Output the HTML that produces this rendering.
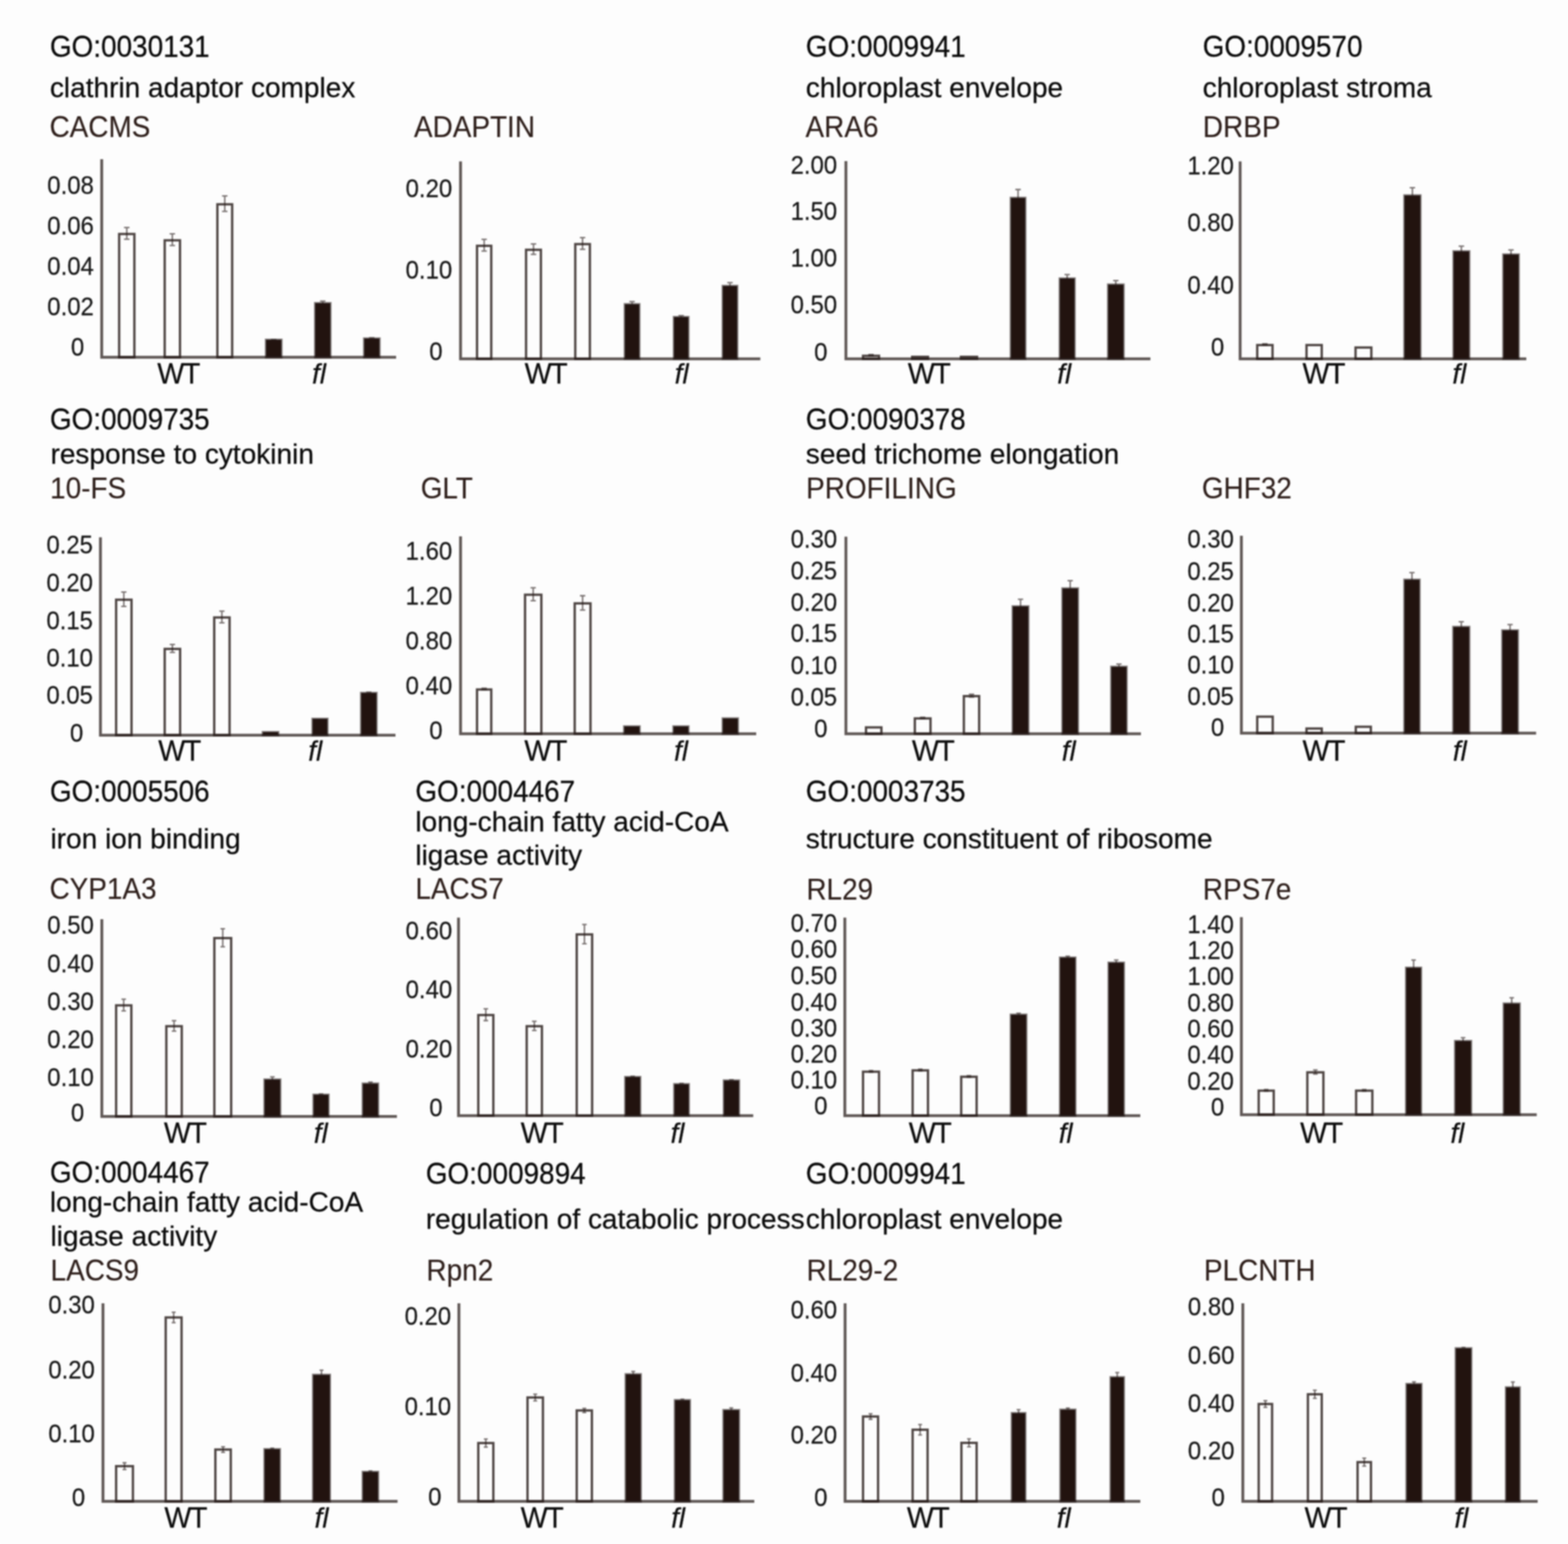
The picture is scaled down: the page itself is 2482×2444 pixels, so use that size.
<!DOCTYPE html>
<html lang="en">
<head>
<meta charset="utf-8">
<title>Figure</title>
<style>
html,body{margin:0;padding:0;background:#fdfdfd;}
body{width:2482px;height:2444px;overflow:hidden;}
svg{display:block;font-family:"Liberation Sans",Arial,Helvetica,sans-serif;}
.fig{filter:blur(1.2px);}
text{paint-order:stroke fill;stroke-linejoin:round;}
.g{font-size:44.2px;fill:#0a0a0a;stroke:#0a0a0a;stroke-width:.35;}
.d{font-size:44.4px;}
.n{font-size:44.2px;fill:#2e1f1b;stroke:#2e1f1b;stroke-width:.2;}
.t{font-size:37.9px;fill:#181818;stroke:#181818;stroke-width:.3;text-anchor:end;}
.l{font-size:44.0px;fill:#0c0c0c;stroke:#0c0c0c;stroke-width:.35;}
.i{font-style:italic;}
.w{font-size:45.2px;letter-spacing:-2.2px;}
.ax{stroke:#231815;stroke-width:4.5;fill:none;stroke-opacity:.72;}
.wb{fill:#fdfdfd;stroke:#231815;stroke-width:3.7;stroke-opacity:.8;}
.bb{fill:#22130f;stroke:#231815;stroke-width:3.8;stroke-opacity:.55;}
.eb{stroke:#231815;stroke-width:2.3;fill:none;stroke-opacity:.6;}
</style>
</head>
<body>
<svg class="fig" width="2482" height="2444" viewBox="0 0 2482 2444">
<rect x="0" y="0" width="2482" height="2444" fill="#fdfdfd"/>

<g id="headers">
<text class="g" transform="translate(78.9 89.6) scale(1 1.09)">GO:0030131</text>
<text class="g d" x="78.9" y="154.1">clathrin adaptor complex</text>
<text class="n" transform="translate(78.4 216.9) scale(1 1.09)">CACMS</text>
<text class="n" transform="translate(655.3 216.9) scale(1 1.09)">ADAPTIN</text>
<text class="g" transform="translate(1275.6 89.6) scale(1 1.09)">GO:0009941</text>
<text class="g d" x="1275.6" y="154.1">chloroplast envelope</text>
<text class="n" transform="translate(1275.1 216.9) scale(1 1.09)">ARA6</text>
<text class="g" transform="translate(1903.7 89.6) scale(1 1.09)">GO:0009570</text>
<text class="g d" x="1903.7" y="154.1">chloroplast stroma</text>
<text class="n" transform="translate(1904.1 216.9) scale(1 1.09)">DRBP</text>
<text class="g" transform="translate(78.9 679.6) scale(1 1.09)">GO:0009735</text>
<text class="g d" x="79.9" y="734.1">response to cytokinin</text>
<text class="n" transform="translate(79.3 788.6) scale(1 1.09)">10-FS</text>
<text class="n" transform="translate(665.9 788.6) scale(1 1.09)">GLT</text>
<text class="g" transform="translate(1275.6 679.6) scale(1 1.09)">GO:0090378</text>
<text class="g d" x="1275.6" y="734.1">seed trichome elongation</text>
<text class="n" transform="translate(1276.1 788.6) scale(1 1.09)">PROFILING</text>
<text class="n" transform="translate(1902.4 788.6) scale(1 1.09)">GHF32</text>
<text class="g" transform="translate(78.9 1269) scale(1 1.09)">GO:0005506</text>
<text class="g d" x="79.9" y="1342.8">iron ion binding</text>
<text class="n" transform="translate(78.4 1423.3) scale(1 1.09)">CYP1A3</text>
<text class="g" transform="translate(657.4 1269) scale(1 1.09)">GO:0004467</text>
<text class="g d" x="657.4" y="1315.8">long-chain fatty acid-CoA</text>
<text class="g d" x="657.4" y="1369.3">ligase activity</text>
<text class="n" transform="translate(657.4 1423.3) scale(1 1.09)">LACS7</text>
<text class="g" transform="translate(1275.4 1269.3) scale(1 1.09)">GO:0003735</text>
<text class="g d" x="1275.4" y="1342.9">structure constituent of ribosome</text>
<text class="n" transform="translate(1276.4 1423.9) scale(1 1.09)">RL29</text>
<text class="n" transform="translate(1904.1 1423.9) scale(1 1.09)">RPS7e</text>
<text class="g" transform="translate(78.9 1871.9) scale(1 1.09)">GO:0004467</text>
<text class="g d" x="78.9" y="1918">long-chain fatty acid-CoA</text>
<text class="g d" x="79.9" y="1972.3">ligase activity</text>
<text class="n" transform="translate(80.1 2027.4) scale(1 1.09)">LACS9</text>
<text class="g" transform="translate(674 1873.5) scale(1 1.09)">GO:0009894</text>
<text class="g d" x="674" y="1944.7">regulation of catabolic process</text>
<text class="n" transform="translate(675.1 2027.4) scale(1 1.09)">Rpn2</text>
<text class="g" transform="translate(1275.6 1873.5) scale(1 1.09)">GO:0009941</text>
<text class="g d" x="1275.6" y="1944.7">chloroplast envelope</text>
<text class="n" transform="translate(1276.8 2027.4) scale(1 1.09)">RL29-2</text>
<text class="n" transform="translate(1905.7 2027.4) scale(1 1.09)">PLCNTH</text>
</g>
<g id="panel1">
<rect class="wb" x="188.6" y="370.4" width="24.1" height="195.1"/>
<rect class="wb" x="260.7" y="380.4" width="24.2" height="185.1"/>
<rect class="wb" x="344.1" y="323.4" width="23.4" height="242.1"/>
<rect class="bb" x="421.1" y="537.9" width="24.3" height="27.6"/>
<rect class="bb" x="498.9" y="479.9" width="24" height="85.6"/>
<rect class="bb" x="576.5" y="535.9" width="24.1" height="29.6"/>
<path class="eb" d="M200.7 360.1V378.7M196.3 360.1H205M196.3 378.7H205"/>
<path class="eb" d="M272.8 370.1V388.7M268.5 370.1H277.1M268.5 388.7H277.1"/>
<path class="eb" d="M355.8 310.1V334.7M351.5 310.1H360.1M351.5 334.7H360.1"/>
<path class="eb" d="M433.2 537.6V537.9M428.9 537.6H437.6"/>
<path class="eb" d="M510.9 476.6V479.9M506.6 476.6H515.2"/>
<path class="eb" d="M588.5 534.6V535.9M584.2 534.6H592.8"/>
<path class="ax" d="M161 252V565.5H627"/>
<text class="t" transform="translate(148.6 306.8) scale(1 1.085)">0.08</text>
<text class="t" transform="translate(148.6 370.8) scale(1 1.085)">0.06</text>
<text class="t" transform="translate(148.6 434.8) scale(1 1.085)">0.04</text>
<text class="t" transform="translate(148.6 499.3) scale(1 1.085)">0.02</text>
<text class="t" transform="translate(133.3 563.4) scale(1 1.085)">0</text>
<text class="l w" transform="translate(249 607.4) scale(1 1.025)">WT</text>
<text class="l i" transform="translate(494 607.4) scale(1 1.005)">fl</text>
</g>
<g id="panel2">
<rect class="wb" x="755.1" y="389.1" width="22.5" height="178.9"/>
<rect class="wb" x="832.7" y="395.4" width="23.5" height="172.6"/>
<rect class="wb" x="910.6" y="386.4" width="23.1" height="181.6"/>
<rect class="bb" x="989.1" y="481.6" width="22.8" height="86.4"/>
<rect class="bb" x="1066.8" y="501.9" width="22.8" height="66.1"/>
<rect class="bb" x="1144.1" y="452.7" width="22.8" height="115.3"/>
<path class="eb" d="M766.4 378.8V397.4M762.1 378.8H770.6M762.1 397.4H770.6"/>
<path class="eb" d="M844.5 386.1V402.7M840.2 386.1H848.8M840.2 402.7H848.8"/>
<path class="eb" d="M922.1 376.1V394.7M917.9 376.1H926.4M917.9 394.7H926.4"/>
<path class="eb" d="M1000.5 477.3V481.6M996.2 477.3H1004.8"/>
<path class="eb" d="M1078.2 499.6V501.9M1073.9 499.6H1082.5"/>
<path class="eb" d="M1155.5 447.4V452.7M1151.2 447.4H1159.8"/>
<path class="ax" d="M729 255.6V568H1203.5"/>
<text class="t" transform="translate(715.8 311.8) scale(1 1.085)">0.20</text>
<text class="t" transform="translate(715.8 440.8) scale(1 1.085)">0.10</text>
<text class="t" transform="translate(700.5 569.8) scale(1 1.085)">0</text>
<text class="l w" transform="translate(830.6 607.4) scale(1 1.025)">WT</text>
<text class="l i" transform="translate(1068 607.4) scale(1 1.005)">fl</text>
</g>
<g id="panel3">
<rect class="wb" x="1366.1" y="563.2" width="25.3" height="4.8"/>
<rect class="wb" x="1443.9" y="564.8" width="25" height="3.2"/>
<rect class="wb" x="1521.1" y="564.8" width="25.5" height="3.2"/>
<rect class="bb" x="1600.1" y="313.3" width="22.8" height="254.7"/>
<rect class="bb" x="1677.6" y="440.9" width="23.3" height="127.1"/>
<rect class="bb" x="1754.1" y="450.5" width="24.3" height="117.5"/>
<path class="eb" d="M1378.8 561.2V563.2M1374.5 561.2H1383M1374.5 563.2H1383"/>
<path class="eb" d="M1611.5 300V313.3M1607.2 300H1615.8"/>
<path class="eb" d="M1689.2 434.6V440.9M1685 434.6H1693.5"/>
<path class="eb" d="M1766.2 444.2V450.5M1762 444.2H1770.5"/>
<path class="ax" d="M1339 255V568H1821"/>
<text class="t" transform="translate(1325.2 274.8) scale(1 1.085)">2.00</text>
<text class="t" transform="translate(1325.2 347.8) scale(1 1.085)">1.50</text>
<text class="t" transform="translate(1325.2 422.3) scale(1 1.085)">1.00</text>
<text class="t" transform="translate(1325.2 496.1) scale(1 1.085)">0.50</text>
<text class="t" transform="translate(1309.9 570.5) scale(1 1.085)">0</text>
<text class="l w" transform="translate(1437 607.4) scale(1 1.025)">WT</text>
<text class="l i" transform="translate(1673.6 607.4) scale(1 1.005)">fl</text>
</g>
<g id="panel4">
<rect class="wb" x="1990.1" y="546.2" width="24.2" height="21.8"/>
<rect class="wb" x="2068.1" y="546.2" width="24.1" height="21.8"/>
<rect class="wb" x="2145.7" y="550.1" width="25" height="17.9"/>
<rect class="bb" x="2223.1" y="309.4" width="25.2" height="258.6"/>
<rect class="bb" x="2300.9" y="397.9" width="24.7" height="170.1"/>
<rect class="bb" x="2379.7" y="402.9" width="24.2" height="165.1"/>
<path class="eb" d="M2002.2 544.2V546.2M1997.9 544.2H2006.5M1997.9 546.2H2006.5"/>
<path class="eb" d="M2235.7 297.1V309.4M2231.4 297.1H2240"/>
<path class="eb" d="M2313.2 389.6V397.9M2308.9 389.6H2317.6"/>
<path class="eb" d="M2391.8 395.6V402.9M2387.5 395.6H2396.1"/>
<path class="ax" d="M1963 255.6V568H2416"/>
<text class="t" transform="translate(1953.2 275.8) scale(1 1.085)">1.20</text>
<text class="t" transform="translate(1953.2 366.2) scale(1 1.085)">0.80</text>
<text class="t" transform="translate(1953.2 464.8) scale(1 1.085)">0.40</text>
<text class="t" transform="translate(1937.9 563.4) scale(1 1.085)">0</text>
<text class="l w" transform="translate(2061.8 607.4) scale(1 1.025)">WT</text>
<text class="l i" transform="translate(2299 607.4) scale(1 1.005)">fl</text>
</g>
<g id="panel5">
<rect class="wb" x="183.8" y="949.3" width="24.4" height="214.4"/>
<rect class="wb" x="260.7" y="1027.2" width="24.4" height="136.5"/>
<rect class="wb" x="339.1" y="977.4" width="24.3" height="186.3"/>
<rect class="bb" x="416.1" y="1158.9" width="24.2" height="4.8"/>
<rect class="bb" x="494.8" y="1137.9" width="23.4" height="25.8"/>
<rect class="bb" x="571.7" y="1096.9" width="24.2" height="66.8"/>
<path class="eb" d="M196 937.2V959.8M191.8 937.2H200.2M191.8 959.8H200.2"/>
<path class="eb" d="M272.9 1020.1V1032.7M268.7 1020.1H277.1M268.7 1032.7H277.1"/>
<path class="eb" d="M351.2 967.3V985.9M347.1 967.3H355.4M347.1 985.9H355.4"/>
<path class="eb" d="M583.8 1095.6V1096.9M579.6 1095.6H588"/>
<path class="ax" d="M159 850.5V1163.7H626"/>
<text class="t" transform="translate(147.2 876.1) scale(1 1.085)">0.25</text>
<text class="t" transform="translate(147.2 935.5) scale(1 1.085)">0.20</text>
<text class="t" transform="translate(147.2 995.5) scale(1 1.085)">0.15</text>
<text class="t" transform="translate(147.2 1054.5) scale(1 1.085)">0.10</text>
<text class="t" transform="translate(147.2 1114) scale(1 1.085)">0.05</text>
<text class="t" transform="translate(131.9 1173.5) scale(1 1.085)">0</text>
<text class="l w" transform="translate(250.6 1203.6) scale(1 1.025)">WT</text>
<text class="l i" transform="translate(488 1203.6) scale(1 1.005)">fl</text>
</g>
<g id="panel6">
<rect class="wb" x="755.1" y="1091.4" width="22.5" height="70.1"/>
<rect class="wb" x="831.1" y="941.4" width="25.8" height="220.1"/>
<rect class="wb" x="909.7" y="955.1" width="25" height="206.4"/>
<rect class="bb" x="988.1" y="1149.9" width="24.2" height="11.6"/>
<rect class="bb" x="1066.1" y="1149.9" width="23.5" height="11.6"/>
<rect class="bb" x="1144.1" y="1137.3" width="23.8" height="24.2"/>
<path class="eb" d="M766.4 1089.3V1091.9M762.1 1089.3H770.6M762.1 1091.9H770.6"/>
<path class="eb" d="M844 930.3V950.9M839.8 930.3H848.2M839.8 950.9H848.2"/>
<path class="eb" d="M922.2 943V965.6M918 943H926.4M918 965.6H926.4"/>
<path class="ax" d="M729 849V1161.5H1197"/>
<text class="t" transform="translate(715.8 885.5) scale(1 1.085)">1.60</text>
<text class="t" transform="translate(715.8 956.9) scale(1 1.085)">1.20</text>
<text class="t" transform="translate(715.8 1027.5) scale(1 1.085)">0.80</text>
<text class="t" transform="translate(715.8 1099) scale(1 1.085)">0.40</text>
<text class="t" transform="translate(700.5 1169.5) scale(1 1.085)">0</text>
<text class="l w" transform="translate(830 1203.6) scale(1 1.025)">WT</text>
<text class="l i" transform="translate(1067 1203.6) scale(1 1.005)">fl</text>
</g>
<g id="panel7">
<rect class="wb" x="1370.8" y="1151.4" width="24.4" height="10.1"/>
<rect class="wb" x="1448.1" y="1137.2" width="24.8" height="24.3"/>
<rect class="wb" x="1525.7" y="1101.9" width="24.2" height="59.6"/>
<rect class="bb" x="1603.1" y="959.9" width="24.6" height="201.6"/>
<rect class="bb" x="1681.8" y="931.5" width="24.4" height="230"/>
<rect class="bb" x="1759.1" y="1055.5" width="24.1" height="106"/>
<path class="eb" d="M1460.5 1135.4V1137.4M1456.3 1135.4H1464.7M1456.3 1137.4H1464.7"/>
<path class="eb" d="M1537.8 1098.8V1103.4M1533.6 1098.8H1542M1533.6 1103.4H1542"/>
<path class="eb" d="M1615.4 948.6V959.9M1611.2 948.6H1619.6"/>
<path class="eb" d="M1694 919.2V931.5M1689.8 919.2H1698.2"/>
<path class="eb" d="M1771.2 1051.2V1055.5M1767 1051.2H1775.4"/>
<path class="ax" d="M1339 849.5V1161.5H1806"/>
<text class="t" transform="translate(1325.2 867.2) scale(1 1.085)">0.30</text>
<text class="t" transform="translate(1325.2 916.9) scale(1 1.085)">0.25</text>
<text class="t" transform="translate(1325.2 966.5) scale(1 1.085)">0.20</text>
<text class="t" transform="translate(1325.2 1016.2) scale(1 1.085)">0.15</text>
<text class="t" transform="translate(1325.2 1066.9) scale(1 1.085)">0.10</text>
<text class="t" transform="translate(1325.2 1117.2) scale(1 1.085)">0.05</text>
<text class="t" transform="translate(1309.9 1166.9) scale(1 1.085)">0</text>
<text class="l w" transform="translate(1443.4 1203.6) scale(1 1.025)">WT</text>
<text class="l i" transform="translate(1680.7 1203.6) scale(1 1.005)">fl</text>
</g>
<g id="panel8">
<rect class="wb" x="1990.1" y="1134.4" width="24.5" height="26.1"/>
<rect class="wb" x="2068.1" y="1153.2" width="24.1" height="7.3"/>
<rect class="wb" x="2146.1" y="1150.4" width="23.8" height="10.1"/>
<rect class="bb" x="2223.1" y="917.7" width="23.8" height="242.8"/>
<rect class="bb" x="2300.5" y="992.4" width="25.1" height="168.1"/>
<rect class="bb" x="2378.1" y="997.9" width="24.4" height="162.6"/>
<path class="eb" d="M2235 906.4V917.7M2230.8 906.4H2239.2"/>
<path class="eb" d="M2313.1 984.1V992.4M2308.9 984.1H2317.2"/>
<path class="eb" d="M2390.3 988.6V997.9M2386.1 988.6H2394.5"/>
<path class="ax" d="M1965 848V1160.5H2431.5"/>
<text class="t" transform="translate(1953.2 867.2) scale(1 1.085)">0.30</text>
<text class="t" transform="translate(1953.2 917.8) scale(1 1.085)">0.25</text>
<text class="t" transform="translate(1953.2 967.5) scale(1 1.085)">0.20</text>
<text class="t" transform="translate(1953.2 1017.2) scale(1 1.085)">0.15</text>
<text class="t" transform="translate(1953.2 1065.9) scale(1 1.085)">0.10</text>
<text class="t" transform="translate(1953.2 1115.5) scale(1 1.085)">0.05</text>
<text class="t" transform="translate(1937.9 1164.5) scale(1 1.085)">0</text>
<text class="l w" transform="translate(2061.8 1203.6) scale(1 1.025)">WT</text>
<text class="l i" transform="translate(2299.7 1203.6) scale(1 1.005)">fl</text>
</g>
<g id="panel9">
<rect class="wb" x="183.8" y="1591.4" width="24.1" height="175.9"/>
<rect class="wb" x="263.3" y="1624.4" width="24.4" height="142.9"/>
<rect class="wb" x="339.3" y="1484.9" width="26.6" height="282.4"/>
<rect class="bb" x="418.8" y="1708.9" width="24.7" height="58.4"/>
<rect class="bb" x="496.4" y="1732.9" width="23.5" height="34.4"/>
<rect class="bb" x="574.3" y="1715.3" width="24.1" height="52"/>
<path class="eb" d="M195.8 1581.6V1600.2M192.2 1581.6H199.4M192.2 1600.2H199.4"/>
<path class="eb" d="M275.5 1615.6V1632.2M271.9 1615.6H279.1M271.9 1632.2H279.1"/>
<path class="eb" d="M352.6 1470.1V1498.7M349 1470.1H356.2M349 1498.7H356.2"/>
<path class="eb" d="M431.1 1704.6V1708.9M427.5 1704.6H434.8"/>
<path class="eb" d="M508.1 1731.6V1732.9M504.5 1731.6H511.8"/>
<path class="eb" d="M586.4 1713V1715.3M582.8 1713H590"/>
<path class="ax" d="M161.2 1455V1767.3H628.3"/>
<text class="t" transform="translate(148.6 1478.1) scale(1 1.085)">0.50</text>
<text class="t" transform="translate(148.6 1538.7) scale(1 1.085)">0.40</text>
<text class="t" transform="translate(148.6 1599) scale(1 1.085)">0.30</text>
<text class="t" transform="translate(148.6 1659) scale(1 1.085)">0.20</text>
<text class="t" transform="translate(148.6 1719.2) scale(1 1.085)">0.10</text>
<text class="t" transform="translate(133.3 1775.3) scale(1 1.085)">0</text>
<text class="l w" transform="translate(259.6 1808.6) scale(1 1.025)">WT</text>
<text class="l i" transform="translate(496.8 1808.6) scale(1 1.005)">fl</text>
</g>
<g id="panel10">
<rect class="wb" x="757.1" y="1606.7" width="23.8" height="159.3"/>
<rect class="wb" x="833.7" y="1624.4" width="24.1" height="141.6"/>
<rect class="wb" x="912.9" y="1479.1" width="24.4" height="286.9"/>
<rect class="bb" x="989.8" y="1704.9" width="23.5" height="61.1"/>
<rect class="bb" x="1067.4" y="1716.2" width="22.8" height="49.8"/>
<rect class="bb" x="1145.9" y="1710.4" width="23.8" height="55.6"/>
<path class="eb" d="M769 1596.9V1615.5M765.4 1596.9H772.6M765.4 1615.5H772.6"/>
<path class="eb" d="M845.8 1616.6V1631.2M842.1 1616.6H849.4M842.1 1631.2H849.4"/>
<path class="eb" d="M925.1 1463.3V1493.9M921.5 1463.3H928.7M921.5 1493.9H928.7"/>
<path class="eb" d="M1001.5 1703.6V1704.9M997.9 1703.6H1005.1"/>
<path class="eb" d="M1078.8 1714.9V1716.2M1075.2 1714.9H1082.4"/>
<path class="eb" d="M1157.8 1709.1V1710.4M1154.2 1709.1H1161.4"/>
<path class="ax" d="M725.8 1452.4V1766H1192.3"/>
<text class="t" transform="translate(715.8 1486.8) scale(1 1.085)">0.60</text>
<text class="t" transform="translate(715.8 1579.8) scale(1 1.085)">0.40</text>
<text class="t" transform="translate(715.8 1673.7) scale(1 1.085)">0.20</text>
<text class="t" transform="translate(700.5 1766.7) scale(1 1.085)">0</text>
<text class="l w" transform="translate(824.2 1808.6) scale(1 1.025)">WT</text>
<text class="l i" transform="translate(1061.4 1808.6) scale(1 1.005)">fl</text>
</g>
<g id="panel11">
<rect class="wb" x="1366.1" y="1696.4" width="25.3" height="69.6"/>
<rect class="wb" x="1444.6" y="1694.3" width="24.3" height="71.7"/>
<rect class="wb" x="1521.5" y="1704.4" width="24.4" height="61.6"/>
<rect class="bb" x="1600.1" y="1606.2" width="24.4" height="159.8"/>
<rect class="bb" x="1678" y="1515.9" width="24.1" height="250.1"/>
<rect class="bb" x="1754.9" y="1523.9" width="24" height="242.1"/>
<path class="eb" d="M1378.8 1694.6V1697.2M1375.2 1694.6H1382.3M1375.2 1697.2H1382.3"/>
<path class="eb" d="M1456.8 1692.5V1695.1M1453.2 1692.5H1460.3M1453.2 1695.1H1460.3"/>
<path class="eb" d="M1533.7 1702.6V1705.2M1530.1 1702.6H1537.3M1530.1 1705.2H1537.3"/>
<path class="eb" d="M1612.3 1603.9V1606.2M1608.7 1603.9H1615.9"/>
<path class="eb" d="M1690.1 1513.6V1515.9M1686.5 1513.6H1693.7"/>
<path class="eb" d="M1766.9 1519.6V1523.9M1763.3 1519.6H1770.5"/>
<path class="ax" d="M1337.3 1452.4V1766H1805"/>
<text class="t" transform="translate(1325.2 1474.5) scale(1 1.085)">0.70</text>
<text class="t" transform="translate(1325.2 1516.3) scale(1 1.085)">0.60</text>
<text class="t" transform="translate(1325.2 1558) scale(1 1.085)">0.50</text>
<text class="t" transform="translate(1325.2 1599.5) scale(1 1.085)">0.40</text>
<text class="t" transform="translate(1325.2 1640.7) scale(1 1.085)">0.30</text>
<text class="t" transform="translate(1325.2 1682.4) scale(1 1.085)">0.20</text>
<text class="t" transform="translate(1325.2 1723.1) scale(1 1.085)">0.10</text>
<text class="t" transform="translate(1309.9 1764.1) scale(1 1.085)">0</text>
<text class="l w" transform="translate(1438.6 1808.6) scale(1 1.025)">WT</text>
<text class="l i" transform="translate(1675.9 1808.6) scale(1 1.005)">fl</text>
</g>
<g id="panel12">
<rect class="wb" x="1992.4" y="1726.4" width="23.8" height="38"/>
<rect class="wb" x="2069.4" y="1697.4" width="25.4" height="67"/>
<rect class="wb" x="2146.6" y="1726.4" width="25.7" height="38"/>
<rect class="bb" x="2225.8" y="1531.9" width="23.5" height="232.5"/>
<rect class="bb" x="2303.4" y="1647.9" width="25.1" height="116.5"/>
<rect class="bb" x="2380.4" y="1588.6" width="25" height="175.8"/>
<path class="eb" d="M2004.3 1724.6V1727.2M2000.7 1724.6H2007.9M2000.7 1727.2H2007.9"/>
<path class="eb" d="M2082.1 1693.6V1700.2M2078.5 1693.6H2085.7M2078.5 1700.2H2085.7"/>
<path class="eb" d="M2159.4 1724.6V1727.2M2155.8 1724.6H2163M2155.8 1727.2H2163"/>
<path class="eb" d="M2237.6 1519.6V1531.9M2234 1519.6H2241.2"/>
<path class="eb" d="M2315.9 1642.6V1647.9M2312.3 1642.6H2319.5"/>
<path class="eb" d="M2392.9 1579.3V1588.6M2389.3 1579.3H2396.5"/>
<path class="ax" d="M1965 1451.8V1764.4H2432.5"/>
<text class="t" transform="translate(1953.2 1476.5) scale(1 1.085)">1.40</text>
<text class="t" transform="translate(1953.2 1517.9) scale(1 1.085)">1.20</text>
<text class="t" transform="translate(1953.2 1558.9) scale(1 1.085)">1.00</text>
<text class="t" transform="translate(1953.2 1600.5) scale(1 1.085)">0.80</text>
<text class="t" transform="translate(1953.2 1641.5) scale(1 1.085)">0.60</text>
<text class="t" transform="translate(1953.2 1683.3) scale(1 1.085)">0.40</text>
<text class="t" transform="translate(1953.2 1724.7) scale(1 1.085)">0.20</text>
<text class="t" transform="translate(1937.9 1765.7) scale(1 1.085)">0</text>
<text class="l w" transform="translate(2058 1808.6) scale(1 1.025)">WT</text>
<text class="l i" transform="translate(2295.9 1808.6) scale(1 1.005)">fl</text>
</g>
<g id="panel13">
<rect class="wb" x="183.8" y="2320.8" width="26.6" height="55.8"/>
<rect class="wb" x="262.3" y="2085.4" width="25.1" height="291.2"/>
<rect class="wb" x="340.9" y="2294.5" width="24.4" height="82.1"/>
<rect class="bb" x="418.8" y="2294" width="24.1" height="82.6"/>
<rect class="bb" x="495.7" y="2176.3" width="26.4" height="200.3"/>
<rect class="bb" x="574.3" y="2329.9" width="24.1" height="46.7"/>
<path class="eb" d="M197.1 2315.5V2326.1M194 2315.5H200.2M194 2326.1H200.2"/>
<path class="eb" d="M274.9 2077.1V2093.7M271.8 2077.1H278M271.8 2093.7H278"/>
<path class="eb" d="M353.1 2290.2V2298.8M350 2290.2H356.2M350 2298.8H356.2"/>
<path class="eb" d="M430.9 2292.5V2294M427.8 2292.5H434"/>
<path class="eb" d="M508.9 2168.8V2176.3M505.8 2168.8H512"/>
<path class="eb" d="M586.4 2328.4V2329.9M583.2 2328.4H589.5"/>
<path class="ax" d="M163 2063V2376.6H629.3"/>
<text class="t" transform="translate(150.2 2079.1) scale(1 1.085)">0.30</text>
<text class="t" transform="translate(150.2 2181.7) scale(1 1.085)">0.20</text>
<text class="t" transform="translate(150.2 2282.7) scale(1 1.085)">0.10</text>
<text class="t" transform="translate(134.9 2383.7) scale(1 1.085)">0</text>
<text class="l w" transform="translate(260.2 2417.6) scale(1 1.025)">WT</text>
<text class="l i" transform="translate(498 2417.6) scale(1 1.005)">fl</text>
</g>
<g id="panel14">
<rect class="wb" x="757.1" y="2284.2" width="23.8" height="92.4"/>
<rect class="wb" x="835" y="2212.1" width="24.4" height="164.5"/>
<rect class="wb" x="912.9" y="2232.6" width="24" height="144"/>
<rect class="bb" x="990.5" y="2175.4" width="23.7" height="201.2"/>
<rect class="bb" x="1068.4" y="2216.4" width="23.5" height="160.2"/>
<rect class="bb" x="1145.3" y="2232.1" width="24.4" height="144.5"/>
<path class="eb" d="M769 2277.9V2290.5M765.9 2277.9H772.1M765.9 2290.5H772.1"/>
<path class="eb" d="M847.2 2206.8V2217.4M844.1 2206.8H850.3M844.1 2217.4H850.3"/>
<path class="eb" d="M924.9 2229.3V2235.9M921.8 2229.3H928M921.8 2235.9H928"/>
<path class="eb" d="M1002.3 2170.9V2175.4M999.2 2170.9H1005.4"/>
<path class="eb" d="M1080.2 2214.9V2216.4M1077.1 2214.9H1083.2"/>
<path class="eb" d="M1157.5 2228.6V2232.1M1154.4 2228.6H1160.6"/>
<path class="ax" d="M726.4 2063V2376.6H1194"/>
<text class="t" transform="translate(714.2 2096.8) scale(1 1.085)">0.20</text>
<text class="t" transform="translate(714.2 2240.1) scale(1 1.085)">0.10</text>
<text class="t" transform="translate(698.9 2383.1) scale(1 1.085)">0</text>
<text class="l w" transform="translate(824.2 2417.6) scale(1 1.025)">WT</text>
<text class="l i" transform="translate(1062.4 2417.6) scale(1 1.005)">fl</text>
</g>
<g id="panel15">
<rect class="wb" x="1366.1" y="2242.2" width="23.8" height="134.4"/>
<rect class="wb" x="1444.6" y="2263.1" width="23.7" height="113.5"/>
<rect class="wb" x="1521.8" y="2283.9" width="24.1" height="92.7"/>
<rect class="bb" x="1601.7" y="2236.9" width="21.2" height="139.7"/>
<rect class="bb" x="1678.6" y="2231.5" width="23.5" height="145.1"/>
<rect class="bb" x="1758.1" y="2180.1" width="20.8" height="196.5"/>
<path class="eb" d="M1378 2237.9V2246.5M1374.9 2237.9H1381.1M1374.9 2246.5H1381.1"/>
<path class="eb" d="M1456.5 2254.8V2271.4M1453.4 2254.8H1459.5M1453.4 2271.4H1459.5"/>
<path class="eb" d="M1533.8 2277.6V2290.2M1530.8 2277.6H1536.9M1530.8 2290.2H1536.9"/>
<path class="eb" d="M1612.3 2231.4V2236.9M1609.2 2231.4H1615.4"/>
<path class="eb" d="M1690.3 2229V2231.5M1687.2 2229H1693.4"/>
<path class="eb" d="M1768.5 2172.6V2180.1M1765.4 2172.6H1771.6"/>
<path class="ax" d="M1337.7 2063V2376.6H1805"/>
<text class="t" transform="translate(1325.2 2087.2) scale(1 1.085)">0.60</text>
<text class="t" transform="translate(1325.2 2186.5) scale(1 1.085)">0.40</text>
<text class="t" transform="translate(1325.2 2285) scale(1 1.085)">0.20</text>
<text class="t" transform="translate(1309.9 2383.7) scale(1 1.085)">0</text>
<text class="l w" transform="translate(1435.4 2417.6) scale(1 1.025)">WT</text>
<text class="l i" transform="translate(1672.7 2417.6) scale(1 1.005)">fl</text>
</g>
<g id="panel16">
<rect class="wb" x="1992.4" y="2222.4" width="21.2" height="154.2"/>
<rect class="wb" x="2070.3" y="2207" width="21.9" height="169.6"/>
<rect class="wb" x="2148.9" y="2314.4" width="21.2" height="62.2"/>
<rect class="bb" x="2226.5" y="2190.8" width="23.4" height="185.8"/>
<rect class="bb" x="2304.4" y="2134.3" width="24.4" height="242.3"/>
<rect class="bb" x="2383.9" y="2196.2" width="21.5" height="180.4"/>
<path class="eb" d="M2003 2217.1V2227.7M1999.9 2217.1H2006.1M1999.9 2227.7H2006.1"/>
<path class="eb" d="M2081.2 2200.7V2213.3M2078.2 2200.7H2084.3M2078.2 2213.3H2084.3"/>
<path class="eb" d="M2159.5 2308.1V2320.7M2156.4 2308.1H2162.6M2156.4 2320.7H2162.6"/>
<path class="eb" d="M2238.2 2187.3V2190.8M2235.1 2187.3H2241.3"/>
<path class="eb" d="M2316.6 2132.8V2134.3M2313.5 2132.8H2319.7"/>
<path class="eb" d="M2394.7 2187.7V2196.2M2391.6 2187.7H2397.8"/>
<path class="ax" d="M1967.3 2063V2376.6H2434"/>
<text class="t" transform="translate(1954.1 2082.4) scale(1 1.085)">0.80</text>
<text class="t" transform="translate(1954.1 2158.7) scale(1 1.085)">0.60</text>
<text class="t" transform="translate(1954.1 2234.7) scale(1 1.085)">0.40</text>
<text class="t" transform="translate(1954.1 2310) scale(1 1.085)">0.20</text>
<text class="t" transform="translate(1938.8 2383.7) scale(1 1.085)">0</text>
<text class="l w" transform="translate(2065 2417.6) scale(1 1.025)">WT</text>
<text class="l i" transform="translate(2302.3 2417.6) scale(1 1.005)">fl</text>
</g>
</svg>
</body>
</html>
